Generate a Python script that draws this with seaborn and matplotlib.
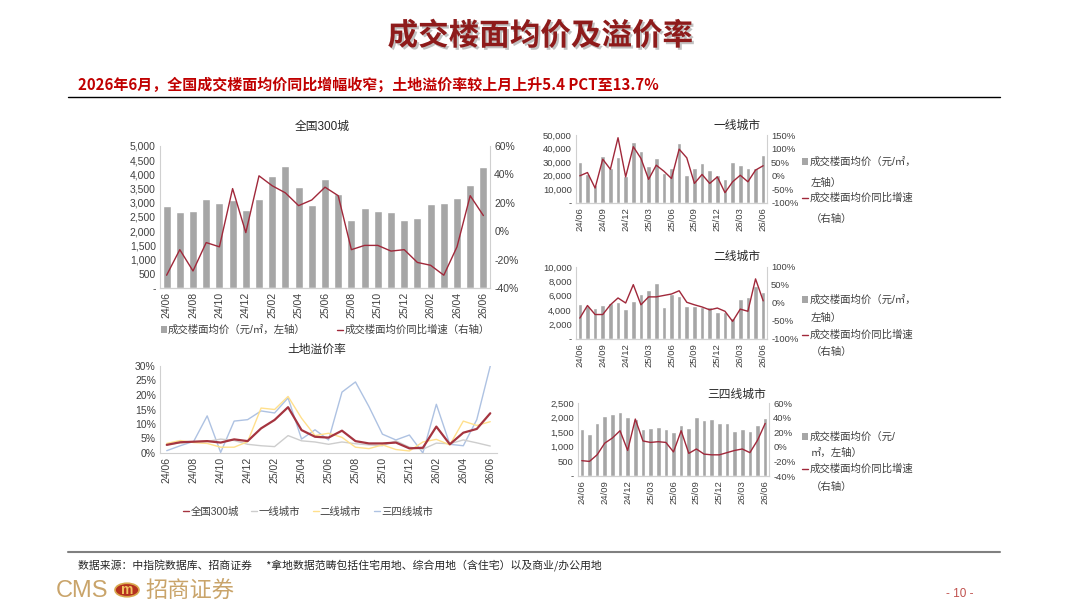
import numpy as np
import pandas as pd
import seaborn as sns
import matplotlib as mpl
mpl.use('Agg')
import matplotlib.pyplot as plt
import matplotlib.patheffects as pe
from matplotlib.lines import Line2D
from matplotlib.patches import Patch, Circle
from matplotlib.ticker import FuncFormatter, MultipleLocator


months = ['24/06', '24/07', '24/08', '24/09', '24/10', '24/11', '24/12',
          '25/01', '25/02', '25/03', '25/04', '25/05', '25/06', '25/07',
          '25/08', '25/09', '25/10', '25/11', '25/12', '26/01', '26/02',
          '26/03', '26/04', '26/05', '26/06']

# 全国300城
nat_price = [2900, 2690, 2700, 3130, 2980, 3100, 2750, 3150, 3950, 4300, 3570, 2930,
             3840, 3310, 2400, 2810, 2700, 2670, 2400, 2460, 2970, 2980, 3180, 3640, 4260]
nat_yoy = [-31, -13, -28, -8, -11, 30, -1, 39, 32, 27, 18, 22,
           31, 25, -13, -10, -10, -14, -13, -22, -24, -31, -11, 25, 11]

# 一线城市
t1_price = [29800, 21500, 13500, 34700, 26000, 34000, 20000, 44600, 38400, 27300, 33300, 21700,
            26100, 43800, 20900, 25900, 29100, 24100, 20400, 17500, 29800, 27800, 26100, 25800, 35200]
t1_yoy = [0, 12, -45, 61, 24, 140, -4, 107, 64, -13, 39, 17,
          -10, 98, 66, -28, 5, -28, -4, -62, -22, 2, -22, 21, 37]

# 二线城市
t2_price = [4900, 4600, 4300, 4700, 5000, 5200, 4200, 5300, 6300, 6800, 7800, 4500,
            6200, 6000, 4600, 4600, 4500, 4400, 3700, 3800, 2900, 5600, 5800, 7400, 6500]
t2_yoy = [-42, -7, -32, -32, -5, 14, 0, 51, -5, 17, 17, 21,
          25, 34, 2, -5, -11, -19, -14, -23, -51, -17, -23, 67, 6]

# 三四线城市
t3_price = [1620, 1430, 1810, 2070, 2120, 2200, 2030, 1950, 1600, 1660, 1670, 1610,
            1520, 1750, 1660, 2020, 1910, 1960, 1810, 1820, 1540, 1600, 1540, 1730, 1980]
t3_yoy = [-19, -20, -11, 5, 12, 22, -5, 38, 8, 6, 7, 6,
          -7, 22, -9, -3, -10, -11, -11, -8, -5, -3, -8, 9, 32]

# 土地溢价率 (%)
prem_nat = [2.8, 3.7, 3.9, 4.1, 3.6, 4.7, 4.1, 8.5, 11.4, 15.8, 7.9, 5.6,
            5.3, 7.7, 4.1, 3.3, 3.3, 3.6, 1.6, 1.8, 9.1, 3.0, 7.0, 8.3, 13.7]
prem_t1 = [3.0, 3.5, 3.8, 4.0, 4.8, 4.3, 3.0, 2.5, 2.2, 6.0, 4.2, 3.8,
           3.0, 3.8, 3.2, 2.8, 2.5, 4.2, 2.0, 1.3, 3.4, 3.2, 4.5, 3.5, 2.4]
prem_t2 = [3.3, 4.3, 3.6, 3.3, 2.0, 2.0, 3.9, 15.5, 15.0, 19.5, 12.0, 6.0,
           6.8, 5.4, 2.0, 1.5, 2.8, 1.2, 0.7, 3.8, 4.7, 2.8, 11.0, 9.5, 10.8]
prem_t34 = [0.8, 2.5, 4.0, 12.8, 0.2, 11.0, 11.5, 14.5, 13.8, 19.0, 4.8, 8.0,
            4.5, 21.0, 24.5, 16.0, 6.5, 4.5, 6.2, 0.0, 16.8, 3.0, 2.5, 11.5, 30.0]

BAR = '#A6A6A6'
RED = '#A0283A'
SPINE = '#D0D0D0'
TXT = '#404040'

sns.set_theme(style='white')
plt.rcParams['font.family'] = ['Liberation Sans', 'Noto Sans CJK SC', 'DejaVu Sans']
plt.rcParams['axes.unicode_minus'] = False

fig = plt.figure(figsize=(10.8, 6.08), dpi=100)
W, H = 1080, 608


def box(l, t, r, b):
    return [l / W, 1 - b / H, (r - l) / W, (b - t) / H]


def style_axes(ax, right=False):
    for s in ['top', 'right', 'left', 'bottom']:
        ax.spines[s].set_visible(False)
    ax.spines['left'].set_visible(not right)
    ax.spines['right'].set_visible(right)
    ax.spines['bottom'].set_visible(True)
    for s in ['left', 'right', 'bottom']:
        ax.spines[s].set_color(SPINE)
        ax.spines[s].set_linewidth(0.8)
    ax.tick_params(axis='y', length=0, colors=TXT, pad=3)
    ax.tick_params(axis='x', length=0, colors=TXT, pad=3)


def thousands(v, pos):
    return '-' if abs(v) < 1e-9 else f'{v:,.0f}'


def pct(v, pos):
    return f'{v:.0f}%'


def bar_line(ax, price, yoy, ylim_l, step_l, ylim_r, step_r, every, fs):
    x = np.arange(len(months))
    sns.barplot(x=x, y=price, color=BAR, width=0.6, ax=ax, saturation=1)
    ax.set_ylim(*ylim_l)
    ax.yaxis.set_major_locator(MultipleLocator(step_l))
    ax.yaxis.set_major_formatter(FuncFormatter(thousands))
    ax.set_xlim(-0.5, len(months) - 0.5)
    ax.set_xticks(x[::every])
    ax.set_xticklabels(months[::every], rotation=90, fontsize=fs)
    ax.tick_params(axis='y', labelsize=fs)
    ax.set_xlabel('')
    ax.set_ylabel('')
    style_axes(ax)

    ax2 = ax.twinx()
    sns.lineplot(x=x, y=yoy, color=RED, lw=1.0, ax=ax2)
    ax2.set_ylim(*ylim_r)
    ax2.yaxis.set_major_locator(MultipleLocator(step_r))
    ax2.yaxis.set_major_formatter(FuncFormatter(pct))
    ax2.set_xlim(-0.5, len(months) - 0.5)
    ax2.set_ylabel('')
    style_axes(ax2, right=True)
    ax2.tick_params(axis='y', labelsize=fs)
    return ax2


# ---- header ----
fig.text(540 / W, 1 - 36 / H, '成交楼面均价及溢价率', ha='center', va='center',
         fontsize=22, fontweight='bold', color='#8E1B1B', family=['Noto Sans CJK SC'],
         path_effects=[pe.SimplePatchShadow(offset=(1.5, -1.5), shadow_rgbFace='#999999', alpha=0.6),
                       pe.Normal()])
fig.text(78 / W, 1 - 85 / H, '2026年6月，全国成交楼面均价同比增幅收窄；土地溢价率较上月上升5.4 PCT至13.7%',
         ha='left', va='center', fontsize=10.8, fontweight='bold', color='#C00000',
         family=['Noto Sans CJK SC'])
fig.add_artist(Line2D([68 / W, 1000 / W], [1 - 97 / H, 1 - 97 / H], color='black', lw=1.0))

# ---- 全国300城 ----
ax = fig.add_axes(box(160, 146, 490, 288))
bar_line(ax, nat_price, nat_yoy, (0, 5000), 500, (-40, 60), 20, 2, 7.5)
fig.text(322 / W, 1 - 127 / H, '全国300城', ha='center', va='center', fontsize=8.5, color='#262626')
h_bar = Patch(facecolor=BAR, edgecolor='none')
h_line = Line2D([], [], color=RED, lw=1.0)
fig.legend([h_bar, h_line], ['成交楼面均价（元/㎡，左轴）', '成交楼面均价同比增速（右轴）'],
           loc='center', bbox_to_anchor=(325 / W, 1 - 330 / H), ncol=2, frameon=False,
           fontsize=7.5, handlelength=0.6, handleheight=0.6, handletextpad=0.1,
           columnspacing=3.0, labelcolor=TXT)

# ---- 土地溢价率 ----
axp = fig.add_axes(box(160, 366, 497, 453))
xx = np.arange(len(months))
prem_series = [('三四线城市', prem_t34, '#AEC2E2', 1.0),
               ('一线城市', prem_t1, '#CDCDCD', 1.0),
               ('二线城市', prem_t2, '#FFE08C', 1.0),
               ('全国300城', prem_nat, '#A5343F', 1.6)]
for name, vals, col, lw in prem_series:
    sns.lineplot(x=xx, y=vals, color=col, lw=lw, ax=axp)
axp.set_ylim(0, 30)
axp.set_xlim(-0.5, len(months) - 0.5)
axp.yaxis.set_major_locator(MultipleLocator(5))
axp.yaxis.set_major_formatter(FuncFormatter(pct))
axp.set_xticks(xx[::2])
axp.set_xticklabels(months[::2], rotation=90, fontsize=7.5)
axp.tick_params(axis='y', labelsize=7.5)
axp.set_ylabel('')
style_axes(axp)
fig.text(317 / W, 1 - 350 / H, '土地溢价率', ha='center', va='center', fontsize=8.5, color='#262626')
order = ['全国300城', '一线城市', '二线城市', '三四线城市']
cols = {n: c for n, _, c, _ in prem_series}
fig.legend([Line2D([], [], color=cols[n], lw=1.0) for n in order], order,
           loc='center', bbox_to_anchor=(308 / W, 1 - 512 / H), ncol=4, frameon=False,
           fontsize=7.5, handlelength=0.6, handletextpad=0.1, columnspacing=1.2, labelcolor=TXT)

# ---- city tiers ----
# (name, price, yoy, left lim, left step, right lim, right step, axes box, title y,
#  legend rows y, bar label lines, line label lines)
tiers = [
    ('一线城市', t1_price, t1_yoy, (0, 50000), 10000, (-100, 150), 50, box(576, 135, 767, 203),
     126, (162, 183, 198, 219), ('成交楼面均价（元/㎡，', '左轴）')),
    ('二线城市', t2_price, t2_yoy, (0, 10000), 2000, (-100, 100), 50, box(576, 267, 767, 339),
     257, (300, 318, 335, 352), ('成交楼面均价（元/㎡，', '左轴）')),
    ('三四线城市', t3_price, t3_yoy, (0, 2500), 500, (-40, 60), 20, box(578, 403, 769, 476),
     395, (437, 453, 469, 487), ('成交楼面均价（元/', '㎡，左轴）')),
]
for name, price, yoy, yl, sl, yr, sr, rect, ty, rows, blab in tiers:
    a = fig.add_axes(rect)
    bar_line(a, price, yoy, yl, sl, yr, sr, 3, 6.8)
    fig.text(737 / W, 1 - ty / H, name, ha='center', va='center', fontsize=8.5, color='#262626')
    for handle, first, second, y1, y2 in [(h_bar, blab[0], blab[1], rows[0], rows[1]),
                                          (h_line, '成交楼面均价同比增速', '（右轴）', rows[2], rows[3])]:
        fig.legend([handle], [first], loc='center left', bbox_to_anchor=(802 / W, 1 - y1 / H),
                   frameon=False, fontsize=7.5, handlelength=0.6, handleheight=0.6,
                   handletextpad=0.1, labelcolor=TXT, borderpad=0, borderaxespad=0)
        fig.text(811 / W, 1 - y2 / H, second, ha='left', va='center', fontsize=7.5, color=TXT)

# ---- footer ----
fig.add_artist(Line2D([68 / W, 1000 / W], [1 - 552 / H, 1 - 552 / H], color='#808080', lw=1.5))
fig.text(78 / W, 1 - 566 / H,
         '数据来源：中指院数据库、招商证券      *拿地数据范畴包括住宅用地、综合用地（含住宅）以及商业/办公用地',
         ha='left', va='center', fontsize=7.8, color='#262626', family=['Noto Sans CJK SC'])
fig.text(56 / W, 1 - 591 / H, 'CMS', ha='left', va='center', fontsize=17, color='#C9A46A',
         family=['Liberation Sans Narrow', 'Liberation Sans'])
fig.add_artist(Circle((127 / W, 1 - 590 / H), 12 / W, transform=fig.transFigure,
                      facecolor='#B5311F', edgecolor='#D8A84E', lw=1.2))
fig.text(127 / W, 1 - 590 / H, 'm', ha='center', va='center', fontsize=10, fontweight='bold',
         color='#F2C462')
fig.text(145 / W, 1 - 591 / H, '招商证券', ha='left', va='center', fontsize=16, color='#C9A46A',
         family=['Noto Sans CJK SC'])
fig.text(960 / W, 1 - 594 / H, '- 10 -', ha='center', va='center', fontsize=8.5, color='#C0504D')

fig.savefig('out.png', dpi=100)
